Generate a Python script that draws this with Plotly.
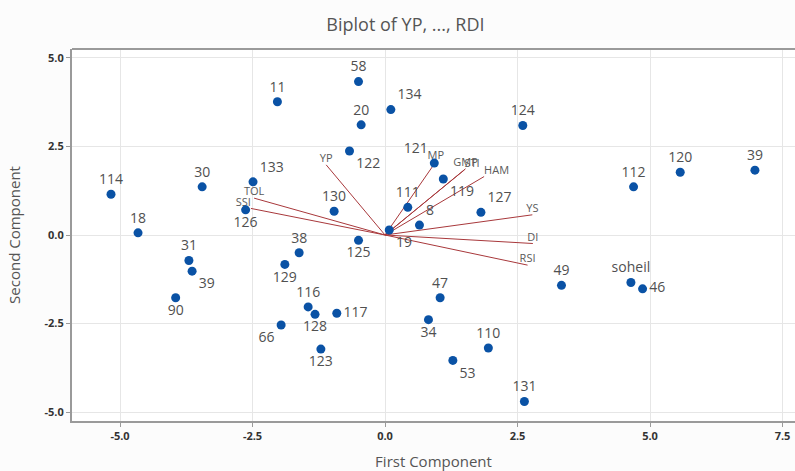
import plotly.graph_objects as go

# Genotype scores
labels = ["114", "18", "30", "133", "126", "11", "58", "20", "134", "122",
          "130", "125", "38", "31", "129", "39", "90", "116", "128", "117",
          "66", "123", "47", "34", "110", "53", "131", "49", "124", "112",
          "120", "39", "127", "soheil", "46", "121", "119", "111", "8", "19"]
pc1 = [-5.17, -4.66, -3.45, -2.49, -2.63, -2.03, -0.50, -0.45, 0.11, -0.67,
       -0.96, -0.50, -1.62, -3.70, -1.89, -3.64, -3.95, -1.45, -1.32, -0.91,
       -1.96, -1.21, 1.04, 0.82, 1.95, 1.28, 2.63, 3.33, 2.60, 4.69,
       5.57, 6.98, 1.81, 4.64, 4.86, 0.93, 1.10, 0.43, 0.65, 0.08]
pc2 = [1.15, 0.06, 1.36, 1.50, 0.71, 3.76, 4.33, 3.11, 3.54, 2.37,
       0.67, -0.15, -0.50, -0.72, -0.83, -1.02, -1.77, -2.03, -2.24, -2.21,
       -2.54, -3.22, -1.77, -2.39, -3.19, -3.54, -4.70, -1.42, 3.09, 1.36,
       1.77, 1.83, 0.64, -1.34, -1.52, 2.03, 1.58, 0.78, 0.28, 0.14]
label_pos = ["top center", "top center", "top center", "top right", "bottom center",
             "top center", "top center", "top center", "top right", "bottom right",
             "top center", "bottom center", "top center", "top center", "bottom center",
             "bottom right", "bottom center", "top center", "bottom center", "middle right",
             "bottom left", "bottom center", "top center", "bottom center", "top center",
             "bottom right", "top center", "top center", "top center", "top center",
             "top center", "top center", "top right", "top center", "middle right",
             "top left", "bottom right", "top center", "top right", "bottom right"]

# Trait loadings (vector ends)
traits = ["YP", "TOL", "SSI", "MP", "GMP", "STI", "HAM", "YS", "DI", "RSI"]
load1 = [-1.11, -2.47, -2.53, 0.96, 1.52, 1.50, 1.87, 2.78, 2.79, 2.69]
load2 = [1.98, 1.04, 0.75, 2.07, 1.87, 1.84, 1.65, 0.57, -0.24, -0.85]
trait_pos = ["top center", "top center", "top left", "top center", "top center",
             "top right", "top right", "top center", "top center", "top center"]

x_ticks = [-5.0, -2.5, 0.0, 2.5, 5.0, 7.5]
y_ticks = [-5.0, -2.5, 0.0, 2.5, 5.0]

fig = go.Figure()

for t, a, b in zip(traits, load1, load2):
    fig.add_trace(go.Scatter(x=[0, a], y=[0, b], mode="lines",
                             line=dict(color="#A8383B", width=1),
                             hoverinfo="skip", showlegend=False))

fig.add_trace(go.Scatter(x=load1, y=load2, mode="text", text=traits,
                         textposition=trait_pos,
                         textfont=dict(size=11, color="#5a5a5a", family="Open Sans"),
                         showlegend=False, hoverinfo="skip"))

fig.add_trace(go.Scatter(x=pc1, y=pc2, mode="markers+text", text=labels,
                         textposition=label_pos,
                         marker=dict(color="#0a52a5", size=9, symbol="circle"),
                         textfont=dict(size=14, color="#505050", family="Open Sans"),
                         showlegend=False))

fig.update_layout(
    width=795, height=471,
    paper_bgcolor="#fcfcfc", plot_bgcolor="white",
    margin=dict(l=72, r=0, t=49, b=50, autoexpand=False),
    title=dict(text="Biplot of YP, ..., RDI", x=0.51, xanchor="center",
               xref="container", yref="container", y=0.947, yanchor="middle",
               font=dict(size=18, color="#555555", family="Open Sans")),
    xaxis=dict(range=[-5.906, 7.736], tickvals=x_ticks, automargin=False,
               ticktext=["<b>%.1f</b>" % v for v in x_ticks],
               tickfont=dict(size=11, color="#333333", family="Open Sans"),
               showgrid=True, gridcolor="#e6e6e6", zeroline=False,
               showline=True, linecolor="#9a9a9a", linewidth=2,
               ticks="outside", ticklen=4, tickcolor="#9a9a9a",
               title=dict(text="First Component", standoff=14,
                          font=dict(size=15, color="#555555", family="Open Sans"))),
    yaxis=dict(range=[-5.25, 5.25], tickvals=y_ticks, automargin=False,
               ticktext=["<b>%.1f</b>" % v for v in y_ticks],
               tickfont=dict(size=11, color="#333333", family="Open Sans"),
               showgrid=True, gridcolor="#e6e6e6", zeroline=False,
               showline=True, linecolor="#9a9a9a", linewidth=2, mirror=False,
               ticks="outside", ticklen=4, tickcolor="#9a9a9a",
               title=dict(text="Second Component", standoff=20,
                          font=dict(size=15, color="#555555", family="Open Sans"))),
)
fig.add_shape(type="line", xref="paper", yref="paper", x0=0, x1=1, y0=1, y1=1,
              line=dict(color="#9a9a9a", width=2))

fig.write_html("out.html", config={"displayModeBar": False},
               post_script="document.body.style.margin='0';document.body.style.padding='0';")
